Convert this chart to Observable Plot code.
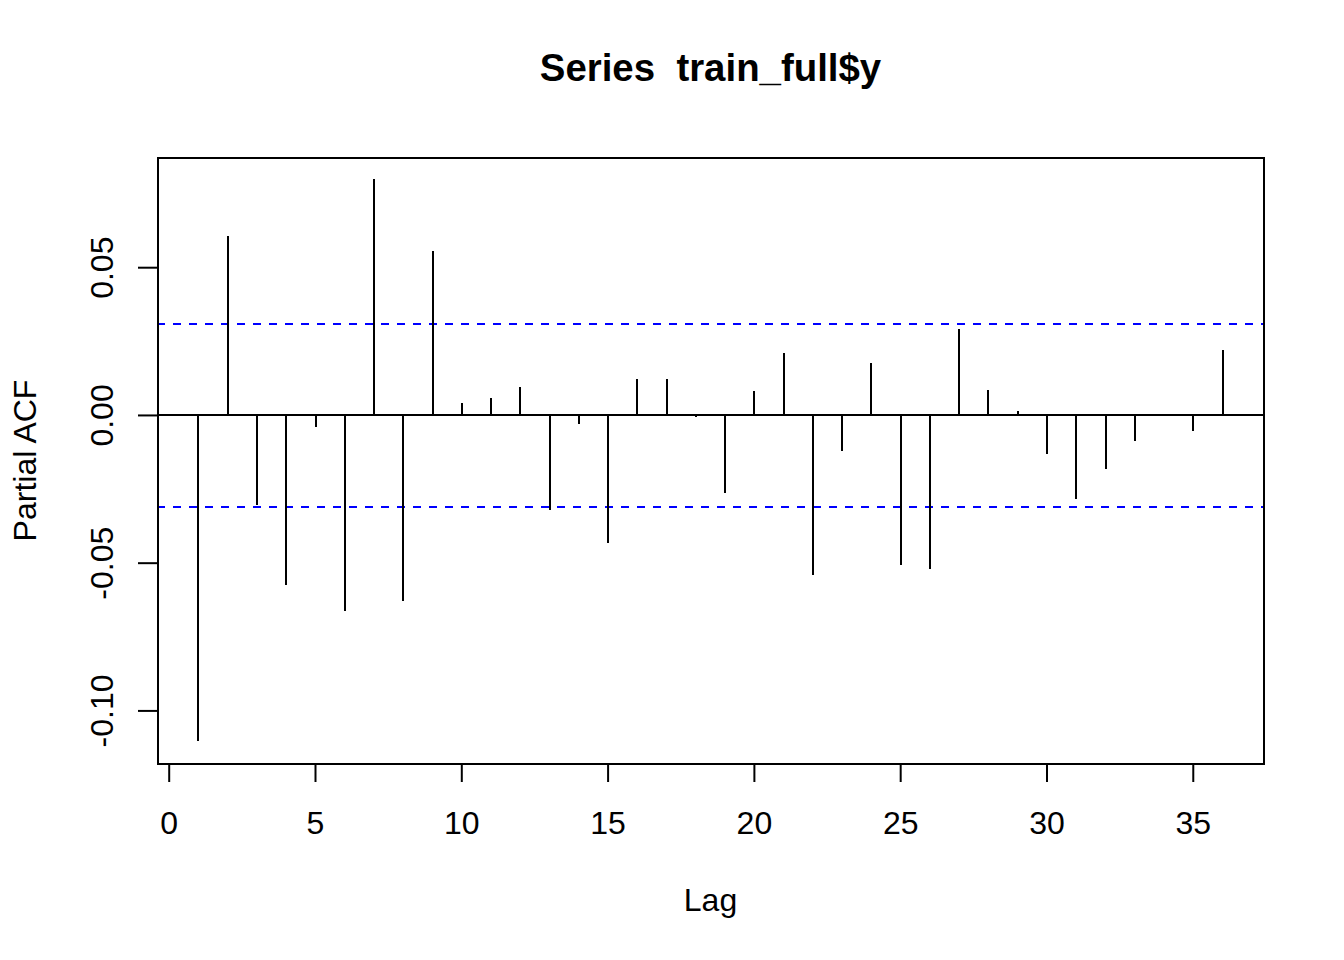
<!DOCTYPE html>
<html>
<head>
<meta charset="utf-8">
<script src="https://cdn.jsdelivr.net/npm/d3@7"></script>
<script src="https://cdn.jsdelivr.net/npm/@observablehq/plot@0.6"></script>
<style>
  html, body { margin: 0; padding: 0; background: #fff; }
  #chart { width: 1344px; height: 960px; }
</style>
</head>
<body>
<div id="chart"></div>
<script>
// ---- data ----
const lags = [1,2,3,4,5,6,7,8,9,10,11,12,13,14,15,16,17,18,19,20,21,22,23,24,25,26,27,28,29,30,31,32,33,34,35,36];
const pacf = [-0.1102, 0.0604, -0.0305, -0.0574, -0.0041, -0.0665, 0.0797, -0.0629, 0.0554, 0.0039,
              0.0059, 0.0093, -0.0323, -0.0030, -0.0433, 0.0120, 0.0120, -0.0006, -0.0263, 0.0080,
              0.0208, -0.0543, -0.0122, 0.0177, -0.0507, -0.0520, 0.0290, 0.0086, 0.0015, -0.0132,
              -0.0284, -0.0182, -0.0088, -0.0002, -0.0054, 0.0221];
const clim = 0.0309;
const xTicks = [0, 5, 10, 15, 20, 25, 30, 35];
const yTicks = [-0.10, -0.05, 0.00, 0.05];
const yTickLabels = ["-0.10", "-0.05", "0.00", "0.05"];
const titleText = "Series  train_full$y";
const xLabel = "Lag";
const yLabel = "Partial ACF";

// ---- build table ----
const rows = lags.map((l, i) => ({lag: l, value: pacf[i]}));
const yTickRows = yTicks.map((v, i) => ({v, label: yTickLabels[i]}));

// R-style axis limits: data range extended by 4%
function extend(lo, hi) { const d = (hi - lo) * 0.04; return [lo - d, hi + d]; }
const xDomain = extend(d3.min(lags), d3.max(lags));
const yDomain = extend(Math.min(d3.min(pacf), -clim), Math.max(d3.max(pacf), clim));

const font = "Liberation Sans, Arial, Helvetica, sans-serif";

const chart = Plot.plot({
  width: 1344,
  height: 960,
  marginLeft: 157,
  marginRight: 81,
  marginTop: 157,
  marginBottom: 197,
  style: {fontFamily: font, background: "#fff", color: "#000", overflow: "visible"},
  x: {domain: xDomain},
  y: {domain: yDomain},
  marks: [
    // confidence band lines
    Plot.ruleY([-clim, clim], {stroke: "#0000FF", strokeWidth: 2, strokeDasharray: "8 8", shapeRendering: "crispEdges"}),
    // zero line
    Plot.ruleY([0], {stroke: "#000", strokeWidth: 2, shapeRendering: "crispEdges"}),
    // PACF spikes
    Plot.ruleX(rows, {x: "lag", y1: 0, y2: "value", stroke: "#000", strokeWidth: 2, shapeRendering: "crispEdges"}),
    // frame
    Plot.frame({stroke: "#000", strokeWidth: 2, shapeRendering: "crispEdges"}),
    // x axis
    Plot.axisX({ticks: xTicks, tickSize: 19, tickPadding: 29, fontSize: 32, label: null,
                strokeWidth: 2, tickFormat: d => String(d), fontFamily: font}),
    // y axis ticks (labels drawn rotated below)
    Plot.axisY({ticks: yTicks, tickSize: 19, tickFormat: () => "", label: null, strokeWidth: 2}),
    Plot.text(yTickRows, {y: "v", text: "label", frameAnchor: "left", dx: -45, rotate: -90,
                          textAnchor: "middle", lineAnchor: "bottom", fontSize: 32, fill: "#000", fontFamily: font}),
    // axis titles
    Plot.text([yLabel], {frameAnchor: "left", dx: -122, rotate: -90, textAnchor: "middle",
                         lineAnchor: "bottom", fontSize: 32, fill: "#000", fontFamily: font}),
    Plot.text([xLabel], {frameAnchor: "bottom", dy: 147, textAnchor: "middle",
                         lineAnchor: "bottom", fontSize: 32, fill: "#000", fontFamily: font}),
    // main title
    Plot.text([titleText], {frameAnchor: "top", dy: -77, textAnchor: "middle", lineAnchor: "bottom",
                            fontSize: 38.4, fontWeight: "bold", fill: "#000", fontFamily: font})
  ]
});
document.getElementById("chart").appendChild(chart);
</script>
</body>
</html>
